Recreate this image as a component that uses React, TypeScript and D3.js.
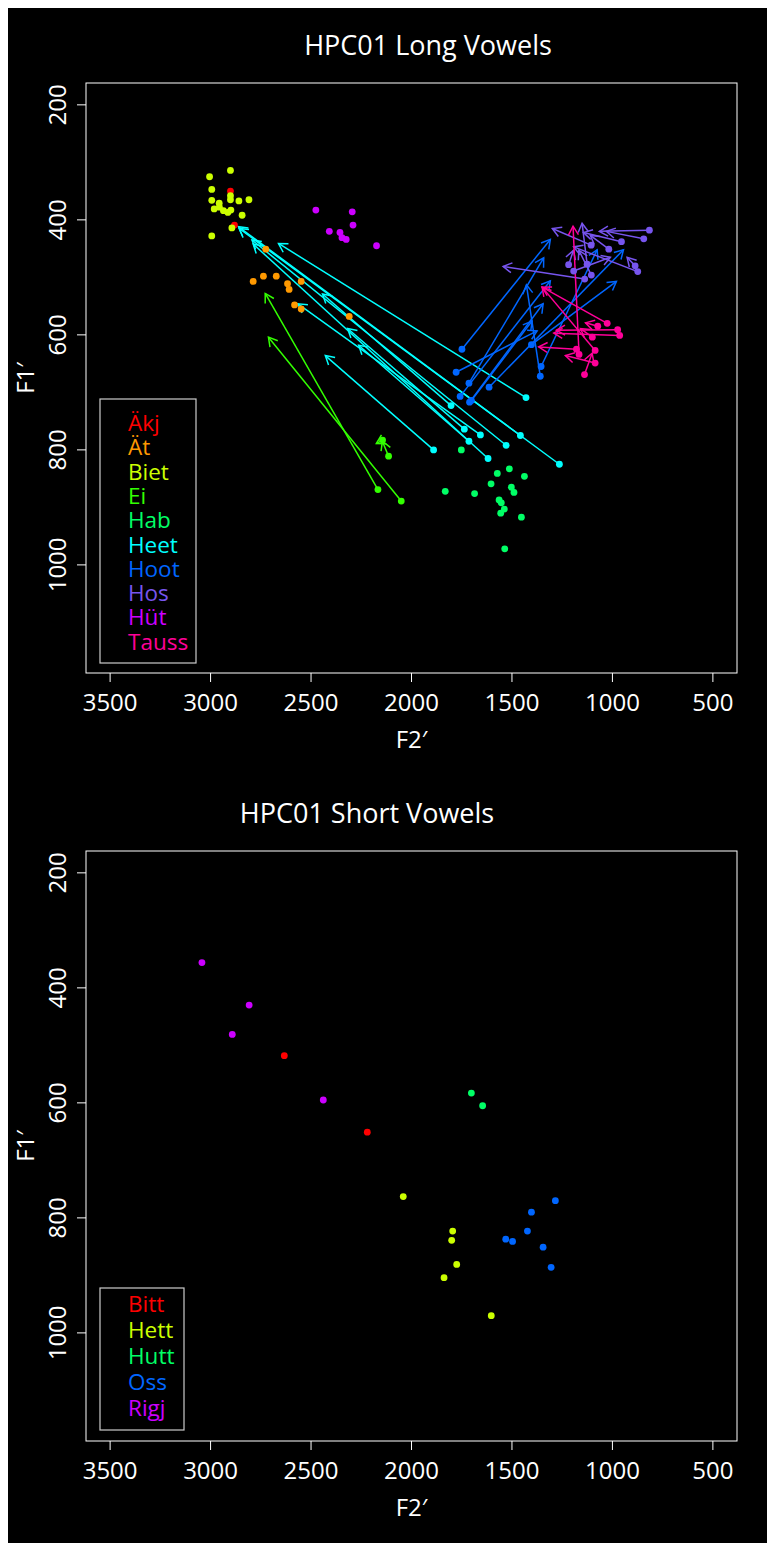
import React from "react"
import * as d3 from "d3"

// Long vowels: monophthongs are [F2, F1], diphthongs are [F2 start, F1 start, F2 end, F1 end]
const longNames = ["Äkj", "Ät", "Biet", "Ei", "Hab", "Heet", "Hoot", "Hos", "Hüt", "Tauss"]
const longColors = ["#FF0000", "#FF9900", "#CCFF00", "#33FF00", "#00FF66", "#00FFFF", "#0066FF", "#7755EE", "#CC00FF", "#FF0099"]

const akjPts = [[2901, 350], [2881, 409]]
const atPts = [[2788, 507], [2737, 498], [2673, 498], [2617, 511], [2609, 521], [2549, 507], [2582, 548], [2549, 555], [2725, 451], [2310, 568]]
const bietPts = [[3005, 325], [2901, 314], [2994, 347], [2994, 366], [2957, 371], [2982, 381], [2956, 378], [2936, 384], [2914, 387], [2899, 383], [2901, 365], [2901, 358], [2859, 367], [2809, 365], [2843, 392], [2894, 414], [2994, 428]]
const eiArrows = [[2167, 869, 2728, 528], [2051, 889, 2712, 604], [2114, 811, 2145, 785], [2144, 783, 2175, 789]]
const habPts = [[1752, 800], [1832, 872], [1686, 876], [1573, 841], [1513, 833], [1438, 846], [1604, 859], [1503, 865], [1490, 874], [1564, 887], [1553, 892], [1538, 903], [1556, 910], [1453, 917], [1536, 972]]
const heetArrows = [[1430, 709, 2662, 441], [1803, 723, 2443, 529], [1737, 764, 2318, 589], [1657, 774, 2565, 546], [1714, 785, 2263, 618], [1529, 792, 2794, 435], [1458, 775, 2861, 412], [1890, 800, 2429, 636], [1619, 815, 2788, 442], [1264, 825, 2858, 415]]
const hootArrows = [[1749, 625, 1309, 434], [1778, 665, 1375, 593], [1714, 684, 1342, 466], [1758, 707, 1309, 506], [1711, 717, 1345, 546], [1702, 714, 1400, 576], [1614, 691, 945, 452], [1403, 617, 980, 507], [1355, 655, 1076, 452], [1359, 672, 1428, 513]]
const hosArrows = [[816, 418, 1065, 420], [844, 433, 1030, 420], [955, 438, 1144, 422], [1106, 444, 1299, 415], [1018, 451, 1110, 427], [1218, 478, 1194, 453], [1126, 477, 1151, 406], [1193, 489, 1010, 465], [1105, 496, 1167, 453], [887, 480, 927, 465], [874, 490, 1193, 447], [1138, 503, 1544, 481]]
const hutPts = [[2476, 383], [2295, 386], [2291, 409], [2409, 420], [2356, 422], [2346, 431], [2325, 434], [2174, 445]]
const taussArrows = [[1026, 580, 1350, 517], [1073, 585, 1134, 579], [974, 591, 1279, 592], [964, 601, 1292, 597], [1100, 604, 1159, 589], [1179, 625, 1367, 621], [1166, 634, 1196, 411], [1086, 627, 1350, 517], [1086, 649, 1234, 636], [1139, 669, 1101, 632]]

// Short vowels
const shortNames = ["Bitt", "Hett", "Hutt", "Oss", "Rigj"]
const shortColors = ["#FF0000", "#CCFF00", "#00FF66", "#0066FF", "#CC00FF"]
const bittPts = [[2633, 518], [2220, 651]]
const hettPts = [[2041, 763], [1795, 823], [1800, 839], [1775, 881], [1838, 904], [1603, 970]]
const huttPts = [[1702, 583], [1646, 605]]
const ossPts = [[1284, 770], [1403, 790], [1423, 823], [1531, 837], [1497, 841], [1345, 851], [1305, 886]]
const rigjPts = [[3043, 356], [2808, 430], [2892, 481], [2439, 595]]

const xTicks = [3500, 3000, 2500, 2000, 1500, 1000, 500]
const yTicks = [200, 400, 600, 800, 1000]

const FONT = "'Open Sans', 'Noto Sans', sans-serif"
const W = 767
const H = 1535

const Arrow = ({ x1, y1, x2, y2, color }) => {
    // Line with an open arrowhead at the end, like R's arrows()
    const a = Math.atan2(y2 - y1, x2 - x1)
    const len = 10
    const spread = Math.PI / 6
    const p1 = [x2 - len * Math.cos(a - spread), y2 - len * Math.sin(a - spread)]
    const p2 = [x2 - len * Math.cos(a + spread), y2 - len * Math.sin(a + spread)]
    return (
        <g stroke={color} strokeWidth={1.5} fill="none">
            <line x1={x1} y1={y1} x2={x2} y2={y2} />
            <polyline points={`${p1[0]},${p1[1]} ${x2},${y2} ${p2[0]},${p2[1]}`} />
        </g>
    )
}

const Panel = ({ top, title, titleX, groups, names, colors, legend }) => {
    const left = 78, right = 729
    const bottom = top + 590
    const x = d3.scaleLinear().domain([3620, 380]).range([left, right])
    const y = d3.scaleLinear().domain([162, 1188]).range([top, bottom])

    return (
        <g fontFamily={FONT} fill="#FFFFFF">
            <text x={titleX} y={top - 28} fontSize={27} textAnchor="middle">{title}</text>

            {/* arrows first, then dots at the start points */}
            {groups.map((g, gi) => g.arrows ? g.arrows.map((d, i) => (
                <Arrow key={`a${gi}-${i}`} x1={x(d[0])} y1={y(d[1])} x2={x(d[2])} y2={y(d[3])} color={g.color} />
            )) : null)}
            {groups.map((g, gi) => (g.arrows || g.pts).map((d, i) => (
                <circle key={`p${gi}-${i}`} cx={x(d[0])} cy={y(d[1])} r={3.4} fill={g.color} />
            )))}

            <rect x={left} y={top} width={right - left} height={bottom - top} fill="none" stroke="#FFFFFF" strokeWidth={1} />

            {xTicks.map(t => (
                <g key={`x${t}`}>
                    <line x1={x(t)} x2={x(t)} y1={bottom} y2={bottom + 9} stroke="#FFFFFF" />
                    <text x={x(t)} y={bottom + 38} fontSize={24} textAnchor="middle">{t}</text>
                </g>
            ))}
            {yTicks.map(t => (
                <g key={`y${t}`}>
                    <line x1={left} x2={left - 9} y1={y(t)} y2={y(t)} stroke="#FFFFFF" />
                    <text transform={`translate(${left - 20},${y(t)}) rotate(-90)`} fontSize={24} textAnchor="middle">{t}</text>
                </g>
            ))}
            <text x={(left + right) / 2} y={bottom + 75} fontSize={24} textAnchor="middle">F2′</text>
            <text transform={`translate(${left - 52},${(top + bottom) / 2}) rotate(-90)`} fontSize={24} textAnchor="middle">F1′</text>

            <rect x={legend.x} y={top + legend.y} width={legend.w} height={legend.h} fill="none" stroke="#CCCCCC" strokeWidth={1.2} />
            {names.map((n, i) => (
                <text key={n} x={legend.x + 28} y={top + legend.y + legend.first + i * legend.step} fontSize={22.5} fill={colors[i]}>{n}</text>
            ))}
        </g>
    )
}

export default function App() {
    const longGroups = [
        { pts: akjPts, color: longColors[0] },
        { pts: atPts, color: longColors[1] },
        { pts: bietPts, color: longColors[2] },
        { arrows: eiArrows, color: longColors[3] },
        { pts: habPts, color: longColors[4] },
        { arrows: heetArrows, color: longColors[5] },
        { arrows: hootArrows, color: longColors[6] },
        { arrows: hosArrows, color: longColors[7] },
        { pts: hutPts, color: longColors[8] },
        { arrows: taussArrows, color: longColors[9] },
    ]
    const shortGroups = [
        { pts: bittPts, color: shortColors[0] },
        { pts: hettPts, color: shortColors[1] },
        { pts: huttPts, color: shortColors[2] },
        { pts: ossPts, color: shortColors[3] },
        { pts: rigjPts, color: shortColors[4] },
    ]

    return (
        <svg width={W} height={H} style={{ display: "block", background: "#000000" }}>
            <Panel top={75} title="HPC01 Long Vowels" titleX={420} groups={longGroups}
                names={longNames} colors={longColors}
                legend={{ x: 92, y: 316, w: 96, h: 264, first: 32, step: 24.3 }} />
            <Panel top={843} title="HPC01 Short Vowels" titleX={359} groups={shortGroups}
                names={shortNames} colors={shortColors}
                legend={{ x: 92, y: 437, w: 84, h: 142, first: 24, step: 26 }} />
        </svg>
    )
}
